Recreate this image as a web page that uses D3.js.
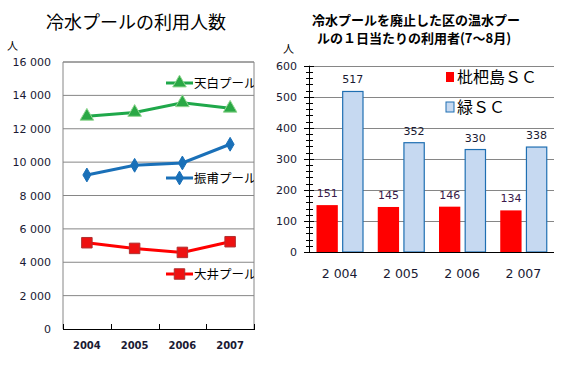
<!DOCTYPE html>
<html lang="ja">
<head>
  <meta charset="utf-8">
  <script src="https://cdn.jsdelivr.net/npm/d3@7/dist/d3.min.js"></script>
  <style>
    body { margin: 0; background: #fff; }
    svg { display: block; }
    .jp { font-family: "Noto Sans CJK JP", sans-serif; }
    .num { font-family: "DejaVu Sans", sans-serif; fill: #1a1a33; }
  </style>
</head>
<body>
<div id="chart"></div>
<script>
  // Left chart: pool users per year
  var years = ['2004', '2005', '2006', '2007'];
  var tenpaku = [12750, 12980, 13560, 13230];
  var shinpo = [9230, 9810, 9950, 11070];
  var oi = [5170, 4830, 4590, 5230];
  var leftTicks = [0, 2000, 4000, 6000, 8000, 10000, 12000, 14000, 16000];

  // Right chart: daily users of heated pools
  var barYears = ['2 004', '2 005', '2 006', '2 007'];
  var biwajima = [151, 145, 146, 134];
  var midori = [517, 352, 330, 338];
  var rightTicks = [0, 100, 200, 300, 400, 500, 600];

  var svg = d3.select('#chart').append('svg')
    .attr('width', 565)
    .attr('height', 373);

  var fmt = function(v) { return d3.format(',')(v).replace(/,/g, ' '); };

  // ---------- left chart ----------
  var x1 = d3.scaleBand().domain(years).range([63, 254]);
  var y1 = d3.scaleLinear().domain([0, 16000]).range([329, 62]);

  svg.append('text').attr('class', 'jp')
    .attr('x', 136).attr('y', 29)
    .attr('text-anchor', 'middle')
    .style('font-size', '18px')
    .text('冷水プールの利用人数');

  svg.append('text').attr('class', 'jp')
    .attr('x', 7).attr('y', 50)
    .style('font-size', '11px')
    .text('人');

  // gridlines
  svg.append('g').selectAll('line')
    .data(leftTicks.slice(1))
    .enter().append('line')
    .attr('x1', 63).attr('x2', 254)
    .attr('y1', function(d) { return y1(d); })
    .attr('y2', function(d) { return y1(d); })
    .attr('stroke', '#868686');

  // frame
  svg.append('path')
    .attr('d', 'M63,329V62H254V329')
    .attr('fill', 'none')
    .attr('stroke', '#868686');

  svg.append('g').selectAll('text')
    .data(leftTicks)
    .enter().append('text')
    .attr('class', 'num')
    .attr('x', 51)
    .attr('y', function(d) { return y1(d) + 4; })
    .attr('text-anchor', 'end')
    .style('font-size', '11px')
    .text(fmt);

  // bottom axis
  var xAxis = svg.append('g');
  xAxis.append('line')
    .attr('x1', 63).attr('x2', 254).attr('y1', 329.5).attr('y2', 329.5)
    .attr('stroke', '#000');
  xAxis.selectAll('.tk')
    .data(years.concat(['end']))
    .enter().append('line')
    .attr('x1', function(d, i) { return Math.round(63 + i * x1.step()) + 0.5; })
    .attr('x2', function(d, i) { return Math.round(63 + i * x1.step()) + 0.5; })
    .attr('y1', 324).attr('y2', 330)
    .attr('stroke', '#000');
  xAxis.selectAll('text')
    .data(years)
    .enter().append('text')
    .attr('class', 'num')
    .attr('x', function(d) { return x1(d) + x1.bandwidth() / 2; })
    .attr('y', 349)
    .attr('text-anchor', 'middle')
    .style('font-size', '10px')
    .style('font-weight', 'bold')
    .text(function(d) { return d; });

  svg.append('clipPath').attr('id', 'clipL')
    .append('rect').attr('x', 0).attr('y', 0).attr('width', 254).attr('height', 373);

  var lineGen = d3.line()
    .x(function(d, i) { return x1(years[i]) + x1.bandwidth() / 2; })
    .y(function(d) { return y1(d); });

  var series = [
    { name: '天白プール', values: tenpaku, color: '#1fa84a', mark: d3.symbolTriangle, size: 80, fill: '#2aa845', edge: '#8fd68f', ly: 83 },
    { name: '振甫プール', values: shinpo, color: '#1a70b8', mark: d3.symbolDiamond, size: 55, fill: '#1a70b8', edge: '#1a70b8', ly: 178 },
    { name: '大井プール', values: oi, color: '#ff0000', mark: d3.symbolSquare, size: 110, fill: '#ee1111', edge: '#b03030', ly: 274 }
  ];

  var sg = svg.append('g').attr('clip-path', 'url(#clipL)');
  series.forEach(function(s) {
    sg.append('path')
      .attr('d', lineGen(s.values))
      .attr('fill', 'none')
      .attr('stroke', s.color)
      .attr('stroke-width', 3);
    var sym = d3.symbol().type(s.mark).size(s.size);
    sg.selectAll(null)
      .data(s.values)
      .enter().append('path')
      .attr('d', sym)
      .attr('transform', function(d, i) {
        return 'translate(' + (x1(years[i]) + x1.bandwidth() / 2) + ',' + y1(d) + ')';
      })
      .attr('fill', s.fill)
      .attr('stroke', s.edge)
      .attr('stroke-width', 1);
    // inline legend
    sg.append('line')
      .attr('x1', 166).attr('x2', 193)
      .attr('y1', s.ly).attr('y2', s.ly)
      .attr('stroke', s.color).attr('stroke-width', 3);
    sg.append('path')
      .attr('d', sym)
      .attr('transform', 'translate(179.5,' + s.ly + ')')
      .attr('fill', s.fill)
      .attr('stroke', s.edge);
    sg.append('text').attr('class', 'jp')
      .attr('x', 194).attr('y', s.ly + 5)
      .style('font-size', '12.5px')
      .text(s.name);
  });

  // ---------- right chart ----------
  var x2 = d3.scaleBand().domain(barYears).range([309, 554]);
  var sub = d3.scaleBand().domain([0, 1]).range([7.5, 54.5]).paddingInner(0.17);
  var y2 = d3.scaleLinear().domain([0, 600]).range([252, 65.7]);

  svg.append('text').attr('class', 'jp')
    .attr('x', 416).attr('y', 25)
    .attr('text-anchor', 'middle')
    .style('font-size', '13px')
    .style('font-weight', 'bold')
    .text('冷水プールを廃止した区の温水プー');
  svg.append('text').attr('class', 'jp')
    .attr('x', 414).attr('y', 43)
    .attr('text-anchor', 'middle')
    .style('font-size', '13px')
    .style('font-weight', 'bold')
    .text('ルの１日当たりの利用者(7～8月)');

  svg.append('text').attr('class', 'jp')
    .attr('x', 283).attr('y', 53)
    .style('font-size', '11px')
    .text('人');

  svg.append('g').selectAll('line')
    .data(rightTicks.slice(1))
    .enter().append('line')
    .attr('x1', 309).attr('x2', 554)
    .attr('y1', function(d) { return Math.round(y2(d)) + 0.5; })
    .attr('y2', function(d) { return Math.round(y2(d)) + 0.5; })
    .attr('stroke', '#868686');

  svg.append('g').selectAll('text')
    .data(rightTicks)
    .enter().append('text')
    .attr('class', 'num')
    .attr('x', 297)
    .attr('y', function(d) { return y2(d) + 4; })
    .attr('text-anchor', 'end')
    .style('font-size', '11px')
    .text(function(d) { return d; });

  // bars
  var groups = svg.append('g').selectAll('g')
    .data(barYears)
    .enter().append('g')
    .attr('transform', function(d) { return 'translate(' + x2(d) + ',0)'; });

  groups.append('rect')
    .attr('x', sub(0))
    .attr('width', sub.bandwidth())
    .attr('y', function(d, i) { return y2(biwajima[i]); })
    .attr('height', function(d, i) { return y2(0) - y2(biwajima[i]); })
    .attr('fill', '#ff0000');

  groups.append('rect')
    .attr('x', sub(1) + 0.5)
    .attr('width', sub.bandwidth() - 1)
    .attr('y', function(d, i) { return y2(midori[i]); })
    .attr('height', function(d, i) { return y2(0) - y2(midori[i]); })
    .attr('fill', '#c6d9f1')
    .attr('stroke', '#1f6fb2')
    .attr('stroke-width', 1.2);

  groups.append('text')
    .attr('class', 'num')
    .attr('x', sub(0) + sub.bandwidth() / 2)
    .attr('y', function(d, i) { return y2(biwajima[i]) - 8; })
    .attr('text-anchor', 'middle')
    .style('font-size', '11px')
    .style('fill', '#3a1a4a')
    .text(function(d, i) { return biwajima[i]; });

  groups.append('text')
    .attr('class', 'num')
    .attr('x', sub(1) + sub.bandwidth() / 2)
    .attr('y', function(d, i) { return y2(midori[i]) - 8; })
    .attr('text-anchor', 'middle')
    .style('font-size', '11px')
    .text(function(d, i) { return midori[i]; });

  groups.append('text')
    .attr('class', 'num')
    .attr('x', x2.bandwidth() / 2)
    .attr('y', 278)
    .attr('text-anchor', 'middle')
    .style('font-size', '12.5px')
    .text(function(d) { return d; });

  // y axis with minor ticks
  var ya = svg.append('g');
  ya.append('line')
    .attr('x1', 309.5).attr('x2', 309.5)
    .attr('y1', y2(600)).attr('y2', y2(0))
    .attr('stroke', '#000');
  ya.append('line')
    .attr('x1', 309).attr('x2', 554)
    .attr('y1', 252.5).attr('y2', 252.5)
    .attr('stroke', '#000');
  ya.selectAll('.minor')
    .data(d3.range(0, 601, 20))
    .enter().append('line')
    .attr('x1', function(d) { return d % 100 === 0 ? 304 : 306; })
    .attr('x2', function(d) { return d % 100 === 0 ? 314 : 313; })
    .attr('y1', function(d) { return Math.round(y2(d)) + 0.5; })
    .attr('y2', function(d) { return Math.round(y2(d)) + 0.5; })
    .attr('stroke', '#000');

  // legend
  var legend = [
    { name: '枇杷島ＳＣ', fill: '#ff0000', stroke: 'none', y: 72 },
    { name: '緑ＳＣ', fill: '#c6d9f1', stroke: '#1f6fb2', y: 102 }
  ];
  var lg = svg.append('g').selectAll('g')
    .data(legend)
    .enter().append('g');
  lg.append('rect')
    .attr('x', 446).attr('y', function(d) { return d.y; })
    .attr('width', 8).attr('height', 10)
    .attr('fill', function(d) { return d.fill; })
    .attr('stroke', function(d) { return d.stroke; });
  lg.append('text').attr('class', 'jp')
    .attr('x', 457).attr('y', function(d) { return d.y + 11; })
    .style('font-size', '16px')
    .text(function(d) { return d.name; });
</script>
</body>
</html>
